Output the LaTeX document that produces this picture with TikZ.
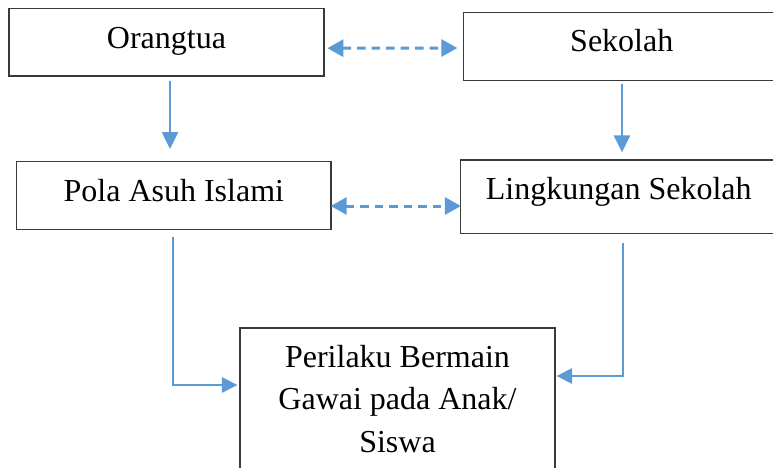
\documentclass[tikz,border=0pt]{standalone}
\usepackage{fontspec}
\setmainfont{Liberation Serif}
\usetikzlibrary{arrows.meta}
\definecolor{arrblue}{HTML}{5B9BD5}
\definecolor{boxgray}{HTML}{3A3A3A}
\begin{document}
\begin{tikzpicture}[x=1pt,y=-1pt,
  box/.style={draw=boxgray,line width=1.4pt,inner sep=0pt,
    font=\fontsize{32}{42.5}\selectfont,text height=22pt,text depth=10pt},
  bigtext/.style={font=\fontsize{32}{42.5}\selectfont,align=center,inner sep=0pt},
  solidarr/.style={draw=arrblue,line width=2.6pt,-{Triangle[length=17pt,width=16pt]}},
  thinarr/.style={draw=arrblue,line width=1.6pt,-{Triangle[length=15.5pt,width=15.5pt]}},
  dasharr/.style={draw=arrblue,line width=3pt,dash pattern=on 8.5pt off 6pt,
    {Triangle[length=16pt,width=17pt]}-{Triangle[length=16pt,width=17pt]}}]
\useasboundingbox (0,0) rectangle (773,468);
\fill[white] (0,0) rectangle (773,468);
% boxes
\node[box,minimum width=315pt,minimum height=67.7pt] (orang) at (166.5,42.2) {Orangtua};
\node[box,minimum width=316.5pt,minimum height=67.6pt,text depth=11pt] (sek) at (621.75,46.5) {Sekolah};
\node[box,minimum width=314.3pt,minimum height=67.6pt] (pola) at (173.85,195.5) {Pola Asuh Islami};
\node[box,minimum width=316.4pt,minimum height=73.3pt,text depth=16.5pt] (ling) at (618.8,196.7) {Lingkungan Sekolah};
\node[draw=boxgray,line width=1.4pt,inner sep=0pt,minimum width=315pt,minimum height=170pt] (perbox) at (397.5,413) {};
\node[bigtext,anchor=north] (pertxt) at (397.5,344.8) {Perilaku Bermain\\Gawai pada Anak/\\Siswa};
% vertical arrows
\draw[solidarr] ([xshift=3.5pt,yshift=-4pt]orang.south) -- ([xshift=-3.85pt,yshift=12pt]pola.north);
\draw[solidarr] ([xshift=0.25pt,yshift=-3pt]sek.south) -- ([xshift=3.2pt,yshift=7pt]ling.north);
% dashed double arrows
\draw[dasharr] ([xshift=2.7pt,yshift=-6pt]orang.east) -- ([xshift=-5.5pt,yshift=-1.5pt]sek.west);
\draw[dasharr] ([xshift=-1pt,yshift=-10.5pt]pola.east) -- ([xshift=1pt,yshift=-9.3pt]ling.west);
% connectors to the bottom box
\draw[thinarr] ([xshift=-0.85pt,yshift=-7pt]pola.south) |- ([xshift=-2pt,yshift=28pt]perbox.west);
\draw[thinarr] ([xshift=4.2pt,yshift=-8.7pt]ling.south) |- ([xshift=1pt,yshift=37pt]perbox.east);
\end{tikzpicture}
\end{document}
